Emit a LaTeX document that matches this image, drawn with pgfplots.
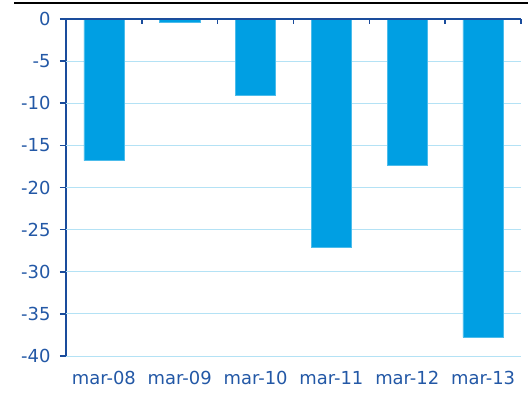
\documentclass[border=0pt]{standalone}
\usepackage{pgfplots}
\pgfplotsset{compat=1.18}
\usepackage{fontspec}
\setmainfont{DejaVu Sans}
\definecolor{barblue}{HTML}{009FE3}
\definecolor{axblue}{HTML}{1A4C9C}
\definecolor{lblblue}{HTML}{2358A6}
\definecolor{gridblue}{HTML}{B4E2F5}
\begin{document}
\begin{tikzpicture}
\begin{axis}[
  scale only axis, width=455bp, height=337bp,
  xmin=-0.5, xmax=5.5, ymin=-40, ymax=0,
  axis x line*=bottom,
  x axis line style={draw=none},
  xtick={0,...,5},
  xticklabels={mar-08,mar-09,mar-10,mar-11,mar-12,mar-13},
  xtick style={draw=none},
  xticklabel style={font=\fontsize{18}{21}\selectfont, color=lblblue, yshift=-6bp},
  axis y line*=left,
  y axis line style={draw=axblue, line width=1.6pt},
  ytick={-40,-35,...,0},
  ytick style={draw=axblue, line width=1.6pt},
  tick align=outside, major tick length=6bp,
  yticklabel style={font=\fontsize{18}{21}\selectfont, color=lblblue, xshift=-6bp},
  /pgf/number format/assume math mode=true,
  clip=false,
]
\draw[gridblue, line width=1pt] (axis cs:-0.5,-5) -- (axis cs:5.5,-5);
\draw[gridblue, line width=1pt] (axis cs:-0.5,-10) -- (axis cs:5.5,-10);
\draw[gridblue, line width=1pt] (axis cs:-0.5,-15) -- (axis cs:5.5,-15);
\draw[gridblue, line width=1pt] (axis cs:-0.5,-20) -- (axis cs:5.5,-20);
\draw[gridblue, line width=1pt] (axis cs:-0.5,-25) -- (axis cs:5.5,-25);
\draw[gridblue, line width=1pt] (axis cs:-0.5,-30) -- (axis cs:5.5,-30);
\draw[gridblue, line width=1pt] (axis cs:-0.5,-35) -- (axis cs:5.5,-35);
\draw[gridblue, line width=1pt] (axis cs:-0.5,-40) -- (axis cs:5.5,-40);
\addplot[ybar, bar width=0.53, fill=barblue, draw=barblue!70!white] coordinates {
 (0,-16.8) (1,-0.4) (2,-9.1) (3,-27.1) (4,-17.3) (5,-37.8)};
\draw[axblue, line width=1.6pt] (axis cs:-0.5,0) -- (axis cs:5.5,0);
\draw[axblue, line width=1.6pt] (axis cs:0.5,0) -- (axis cs:0.5,-0.6);
\draw[axblue, line width=1.6pt] (axis cs:1.5,0) -- (axis cs:1.5,-0.6);
\draw[axblue, line width=1.6pt] (axis cs:2.5,0) -- (axis cs:2.5,-0.6);
\draw[axblue, line width=1.6pt] (axis cs:3.5,0) -- (axis cs:3.5,-0.6);
\draw[axblue, line width=1.6pt] (axis cs:4.5,0) -- (axis cs:4.5,-0.6);
\draw[axblue, line width=1.6pt] (axis cs:5.5,0) -- (axis cs:5.5,-0.6);
\draw[black, line width=2.2pt] (rel axis cs:-0.114,1.0475) -- (rel axis cs:1.0154,1.0475);
\coordinate (bl) at (rel axis cs:-0.145,-0.1128);
\coordinate (tr) at (rel axis cs:1.0154,1.0564);
\end{axis}
\pgfresetboundingbox
\path[use as bounding box] (bl) rectangle (tr);
\end{tikzpicture}
\end{document}
